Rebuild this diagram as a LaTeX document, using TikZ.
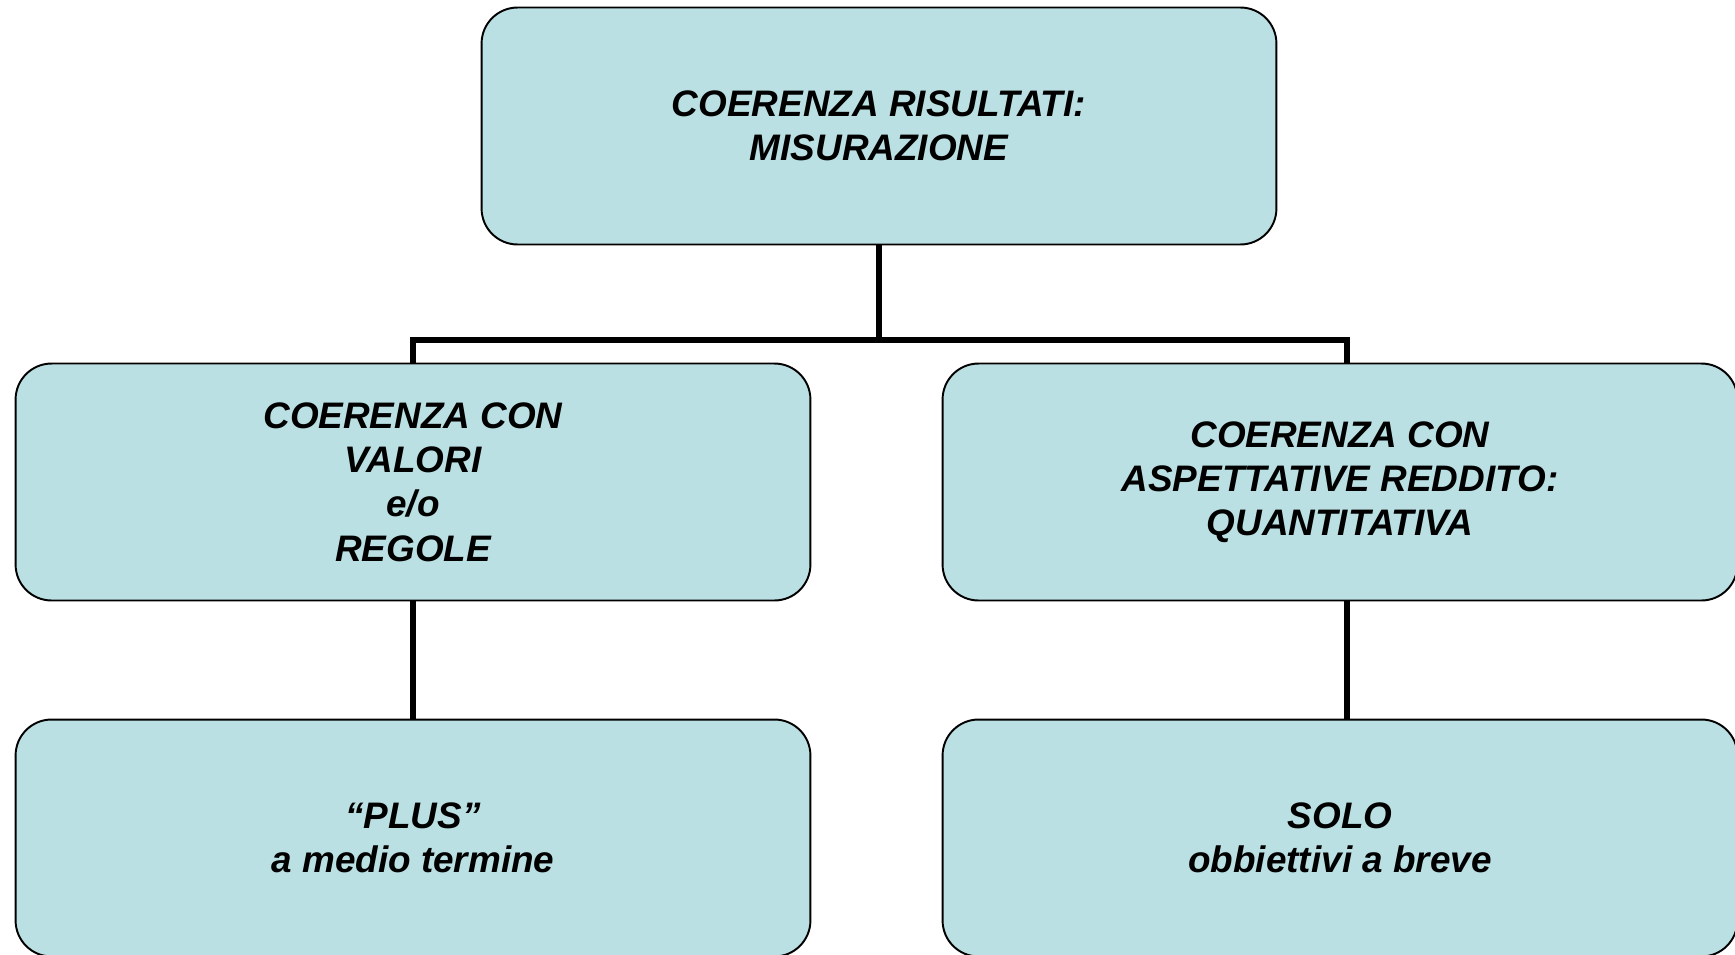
\documentclass[tikz,border=0pt]{standalone}
\usepackage{fontspec}
\setmainfont{Liberation Sans}
\definecolor{boxfill}{RGB}{186,224,227}

\begin{document}
\begin{tikzpicture}[x=0.02cm, y=-0.02cm,
  box/.style={draw=black, line width=1.1pt, fill=boxfill, rounded corners=0.72cm,
    minimum width=15.9cm, minimum height=4.74cm, align=center,
    font=\bfseries\itshape\fontsize{21}{25.2}\selectfont},
  link/.style={line width=3.4pt}]
\useasboundingbox (0,0) rectangle (1735,954);

% top
\node (top)[box] at (879,126) {COERENZA RISULTATI:\\MISURAZIONE};

% middle
\node (left)[box] at (413,482) {COERENZA CON\\VALORI\\e/o\\REGOLE};
\node (right)[box] at (1340,482) {COERENZA CON\\ASPETTATIVE REDDITO:\\QUANTITATIVA};

% bot
\node (leftbot)[box] at (413,838) {“PLUS”\\a medio termine};
\node (rightbot)[box] at (1340,838) {SOLO\\obbiettivi a breve};

% links
\coordinate (split) at (879,340);
\draw[link] (top.south) -- (split);
\draw[link] (split) -| (left.north);
\draw[link] (split) -| ([xshift=4pt]right.north);

\draw[link] (left.south) -- (leftbot.north);
\draw[link] ([xshift=4pt]right.south) -- ([xshift=4pt]rightbot.north);

\end{tikzpicture}
\end{document}
